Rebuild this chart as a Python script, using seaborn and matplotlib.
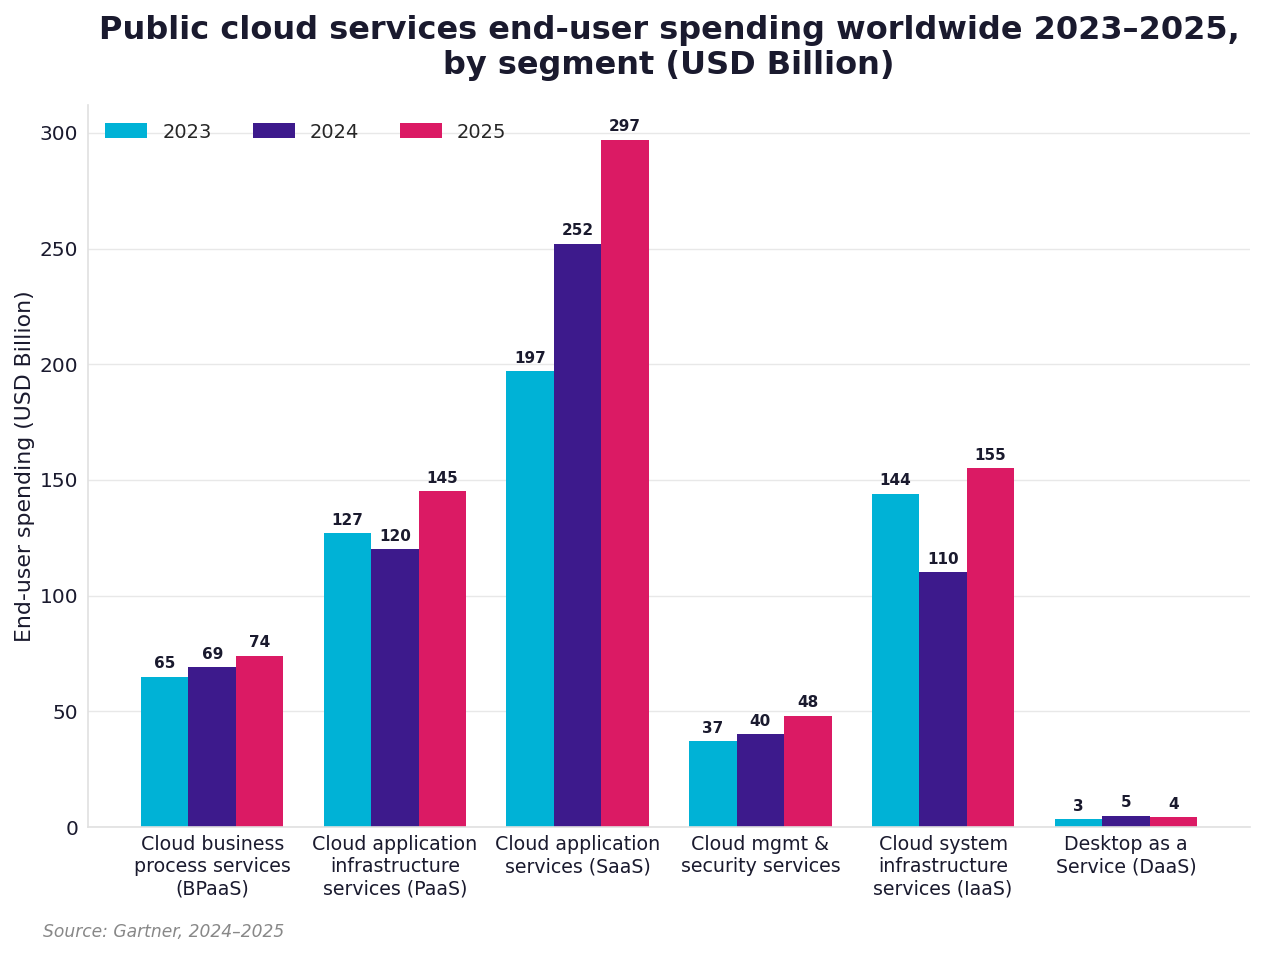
import pandas as pd
import matplotlib.pyplot as plt
import seaborn as sns

# =====================================
# Data
# =====================================

segments = [
    "Cloud business\nprocess services\n(BPaaS)",
    "Cloud application\ninfrastructure\nservices (PaaS)",
    "Cloud application\nservices (SaaS)",
    "Cloud mgmt &\nsecurity services",
    "Cloud system\ninfrastructure\nservices (IaaS)",
    "Desktop as a\nService (DaaS)",
]
years = ["2023", "2024", "2025"]
spend_2023 = [65, 127, 197, 37, 144, 3.4]
spend_2024 = [69, 120, 252, 40, 110, 4.8]
spend_2025 = [74, 145, 297, 48, 155, 4.3]

colors = ["#00B2D6", "#3D1A8C", "#DB1A64"]

df = pd.DataFrame({
    "segment": segments * 3,
    "year": [y for y in years for _ in segments],
    "value": spend_2023 + spend_2024 + spend_2025,
})

# =====================================
# Chart
# =====================================

sns.set_theme(style="white")
plt.rcParams["font.family"] = ["DejaVu Sans"]

fig, ax = plt.subplots(figsize=(12.64, 9.55), dpi=100)
fig.subplots_adjust(left=0.0696, right=0.989, top=0.890, bottom=0.134)

sns.barplot(
    data=df, x="segment", y="value", hue="year",
    palette=colors, width=0.78, saturation=1, linewidth=0, ax=ax,
)

for container in ax.containers:
    ax.bar_label(
        container, fmt="%.0f", padding=4,
        fontsize=11, fontweight="bold", color="#1a1a2e",
    )

ax.set_xlim(-0.68, 5.68)
ax.set_ylim(0, 312)
ax.set_yticks([0, 50, 100, 150, 200, 250, 300])

ax.yaxis.grid(True, color="#e8e8e8", linewidth=1)
ax.set_axisbelow(True)
for side in ["top", "right"]:
    ax.spines[side].set_visible(False)
for side in ["left", "bottom"]:
    ax.spines[side].set_color("#e0e0e0")
    ax.spines[side].set_linewidth(1.2)

ax.tick_params(axis="x", labelsize=13.7, colors="#1a1a2e", length=0, pad=6)
ax.tick_params(axis="y", labelsize=14.5, colors="#1a1a2e", length=0, pad=7)
ax.set_xlabel("")
ax.set_ylabel("End-user spending (USD Billion)", fontsize=15.8, color="#1a1a2e", labelpad=3)

ax.set_title(
    "Public cloud services end-user spending worldwide 2023\u20132025,\nby segment (USD Billion)",
    fontsize=23, fontweight="bold", color="#1a1a2e", pad=22,
)

ax.legend(
    loc="upper left", ncol=3, frameon=False, fontsize=14,
    handlelength=2.16, handleheight=0.82, handletextpad=0.77,
    columnspacing=2.1, bbox_to_anchor=(0.0, 1.0),
)

fig.text(0.034, 0.019, "Source: Gartner, 2024\u20132025",
         fontsize=12.3, style="italic", color="#888888")

plt.savefig("out.png", dpi=100)
plt.close()
